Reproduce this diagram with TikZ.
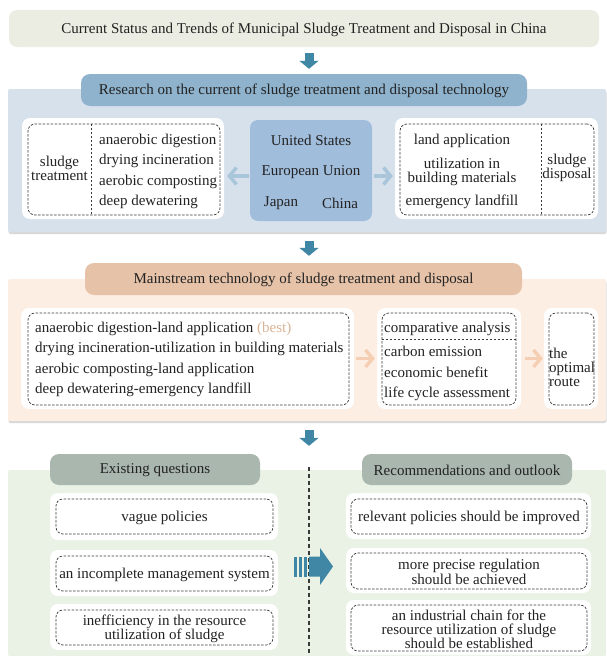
\documentclass[tikz,border=0pt]{standalone}
\usepackage{fontspec}
\setmainfont{Liberation Serif}
\usetikzlibrary{arrows.meta,shadows,fit,calc}
\definecolor{titlebg}{HTML}{ECEDE2}
\definecolor{arrblue}{HTML}{3F87A5}
\definecolor{hdrblue}{HTML}{8FB3CD}
\definecolor{bandblue}{HTML}{D7E1EC}
\definecolor{ctrblue}{HTML}{A1BDDC}
\definecolor{ltblue}{HTML}{A9C5DA}
\definecolor{hdrtan}{HTML}{E6C3A8}
\definecolor{bandtan}{HTML}{FCEEE3}
\definecolor{lttan}{HTML}{F4CFB4}
\definecolor{besttan}{HTML}{D8B497}
\definecolor{bandgreen}{HTML}{EAF2E5}
\definecolor{hdrgrey}{HTML}{AAB7AF}
\definecolor{ink}{HTML}{222222}
\definecolor{dashc}{HTML}{3A3A3A}
\begin{document}
\begin{tikzpicture}[x=1pt,y=-1pt,
  every node/.style={text=ink, inner sep=0pt, font=\fontsize{15}{17}\selectfont},
  txt/.style={yshift=-1pt},
  panel/.style={draw=none, inner sep=0pt, rounded corners=#1},
  bandbox/.style={fill=#1, draw=none, inner sep=0pt, rounded corners=2pt},
  wbox/.style={fill=white, draw=none, inner sep=0pt, rounded corners=8pt},
  dbox/.style={draw=dashc, line width=0.7pt, dash pattern=on 2.5pt off 1.5pt, inner sep=0pt, rounded corners=7pt},
  dline/.style={draw=dashc, line width=0.7pt, dash pattern=on 2.5pt off 1.5pt},
  downarr/.style={draw=arrblue, line width=9pt, -{Triangle[length=8pt,width=19pt]}},
  sidearr/.style={draw=#1, line width=3.5pt, -{Straight Barb[length=7pt,width=17pt]}},
  bshadow/.style={drop shadow={shadow xshift=0.5pt, shadow yshift=-2pt, opacity=0.25, fill=black!60}}
]
\useasboundingbox (0,0) rectangle (606,656);
\fill[white] (0,0) rectangle (606,656);
\coordinate (ax) at (309,0);

% ---------- title ----------
\node[panel=8pt, fill=titlebg, fit={(9,10)(599,47)}] (title) {};
\node[txt] (titletext) at (title.center) {Current Status and Trends of Municipal Sludge Treatment and Disposal in China};

% ---------- section 1 ----------
\node[bandbox=bandblue, bshadow, fit={(8,89)(606,232)}] (band1) {};
\node[panel=9pt, fill=hdrblue, fit={(81,74)(527,106)}] (hdr1) {};
\node[txt] (hdr1text) at (hdr1.center) {Research on the current of sludge treatment and disposal technology};
\draw[downarr, shorten <=6pt, shorten >=5pt] (title.south -| ax) -- (hdr1.north -| ax);

\node[wbox, fit={(22,118)(224,219)}] (L1w) {};
\node[dbox, fit={(28,124)(220,215)}] (L1d) {};
\coordinate (d1) at (91,0);
\draw[dline] (L1d.north -| d1) -- (L1d.south -| d1);
\node[txt, align=center, font=\fontsize{15}{14}\selectfont] (st) at (59.5,167) {sludge\\treatment};
\node[txt, align=left, anchor=west, font=\fontsize{15}{20.3}\selectfont] (L1list) at (99,170.5) {anaerobic digestion\\drying incineration\\aerobic composting\\deep dewatering};

\node[panel=8pt, fill=ctrblue, fit={(250,120)(372,221)}] (C1) {};
\node[txt] (us) at (311,139) {United States};
\node[txt] (eu) at (311,171) {European Union};
\node[txt] (jp) at (281,202) {Japan};
\node[txt] (cn) at (340,202) {China};

\node[wbox, fit={(395,118)(598,219)}] (R1w) {};
\node[dbox, fit={(400,124)(594,215)}] (R1d) {};
\coordinate (d2) at (541,0);
\draw[dline] (R1d.north -| d2) -- (R1d.south -| d2);
\node[txt] (la) at (462,140) {land application};
\node[txt, align=center, font=\fontsize{15}{14}\selectfont] (ub) at (462,170.5) {utilization in\\building materials};
\node[txt] (el) at (462,201) {emergency landfill};
\node[txt, align=center, font=\fontsize{15}{14}\selectfont] (sd) at (567,167) {sludge\\disposal};

\coordinate (ay1) at (0,176);
\draw[sidearr=ltblue, shorten <=1pt, shorten >=3pt] (C1.west |- ay1) -- (L1w.east |- ay1);
\draw[sidearr=ltblue, shorten <=2pt, shorten >=2pt] (C1.east |- ay1) -- (R1w.west |- ay1);

% ---------- section 2 ----------
\node[bandbox=bandtan, bshadow, fit={(8,279)(606,421)}] (band2) {};
\node[panel=9pt, fill=hdrtan, fit={(85,263)(522,295)}] (hdr2) {};
\node[txt] (hdr2text) at (hdr2.center) {Mainstream technology of sludge treatment and disposal};
\draw[downarr, shorten <=9pt, shorten >=7pt] (band1.south -| ax) -- (hdr2.north -| ax);

\node[wbox, fit={(21,308)(354,409)}] (L2w) {};
\node[dbox, fit={(28,313)(349,405)}] (L2d) {};
\node[txt, align=left, anchor=west, font=\fontsize{15}{20.3}\selectfont] (L2list) at (35,358.5) {anaerobic digestion-land application \textcolor{besttan}{(best)}\\drying incineration-utilization in building materials\\aerobic composting-land application\\deep dewatering-emergency landfill};

\node[wbox, fit={(377,308)(521,409)}] (M2w) {};
\node[dbox, fit={(382,313)(516,405)}] (M2d) {};
\coordinate (dv) at (0,339);
\draw[dline] (M2d.west |- dv) -- (M2d.east |- dv);
\node[txt, anchor=west] (ca) at (384,327.5) {comparative analysis};
\node[txt, align=left, anchor=west, font=\fontsize{15}{20.5}\selectfont] (M2list) at (384,372.5) {carbon emission\\economic benefit\\life cycle assessment};

\node[wbox, fit={(544,308)(598,409)}] (S2w) {};
\node[dbox, fit={(549,313)(594,405)}] (S2d) {};
\node[txt, align=left, anchor=west, font=\fontsize{15}{14}\selectfont] (opt) at (549,366.5) {the\\optimal\\route};

\draw[sidearr=lttan, shorten <=2pt, shorten >=2pt] (L2w.east) -- (M2w.west);
\draw[sidearr=lttan, shorten <=4pt, shorten >=1pt] (M2w.east) -- (S2w.west);

% ---------- section 3 ----------
\node[bandbox=bandgreen, fit={(8,470)(606,656)}] (band3) {};
\draw[downarr, shorten <=9pt, shorten >=24pt] (band2.south -| ax) -- (band3.north -| ax);
\node[panel=9pt, fill=hdrgrey, fit={(50,454)(260,485)}] (hdrL) {};
\node[txt] (hdrLtext) at (hdrL.center) {Existing questions};
\node[panel=9pt, fill=hdrgrey, fit={(362,454)(572,485)}] (hdrR) {};
\node[txt] (hdrRtext) at (hdrR.center) {Recommendations and outlook};
\draw[draw=dashc, line width=1.1pt, dash pattern=on 4pt off 3pt] ($(band3.north -| ax)+(0,-3)$) -- (band3.south -| ax);

\node[wbox, fit={(50,493)(278,540)}] (q1w) {};
\node[dbox, fit={(56,499)(273,534)}] (q1) {};
\node[txt] (q1t) at (q1.center) {vague policies};
\node[wbox, fit={(50,550)(278,596)}] (q2w) {};
\node[dbox, fit={(56,556)(273,591)}] (q2) {};
\node[txt] (q2t) at (q2.center) {an incomplete management system};
\node[wbox, fit={(50,604)(278,650)}] (q3w) {};
\node[dbox, fit={(56,610)(273,645)}] (q3) {};
\node[txt, align=center, font=\fontsize{15}{14}\selectfont] (q3t) at (q3.center) {inefficiency in the resource\\utilization of sludge};

\node[wbox, fit={(346,493)(591,539)}] (r1w) {};
\node[dbox, fit={(351,499)(587,534)}] (r1) {};
\node[txt] (r1t) at (r1.center) {relevant policies should be improved};
\node[wbox, fit={(346,548)(591,593)}] (r2w) {};
\node[dbox, fit={(351,553)(587,589)}] (r2) {};
\node[txt, align=center, font=\fontsize{15}{13.5}\selectfont] (r2t) at (r2.center) {more precise regulation\\should be achieved};
\node[wbox, fit={(346,600)(591,655)}] (r3w) {};
\node[dbox, fit={(351,605)(587,651)}] (r3) {};
\node[txt, align=center, font=\fontsize{15}{14}\selectfont] (r3t) at (r3.center) {an industrial chain for the\\resource utilization of sludge\\should be established};

% big striped arrow
\coordinate (ba) at (294,566.5);
\begin{scope}[shift={(ba)}]
  \fill[arrblue] (0,-10) rectangle (3,10);
  \fill[arrblue] (5,-10) rectangle (8,10);
  \fill[arrblue] (10,-10) rectangle (13,10);
  \fill[arrblue] (15,-10) -- (26,-10) -- (26,-18.5) -- (39,0) -- (26,18.5) -- (26,10) -- (15,10) -- cycle;
\end{scope}
\end{tikzpicture}
\end{document}
